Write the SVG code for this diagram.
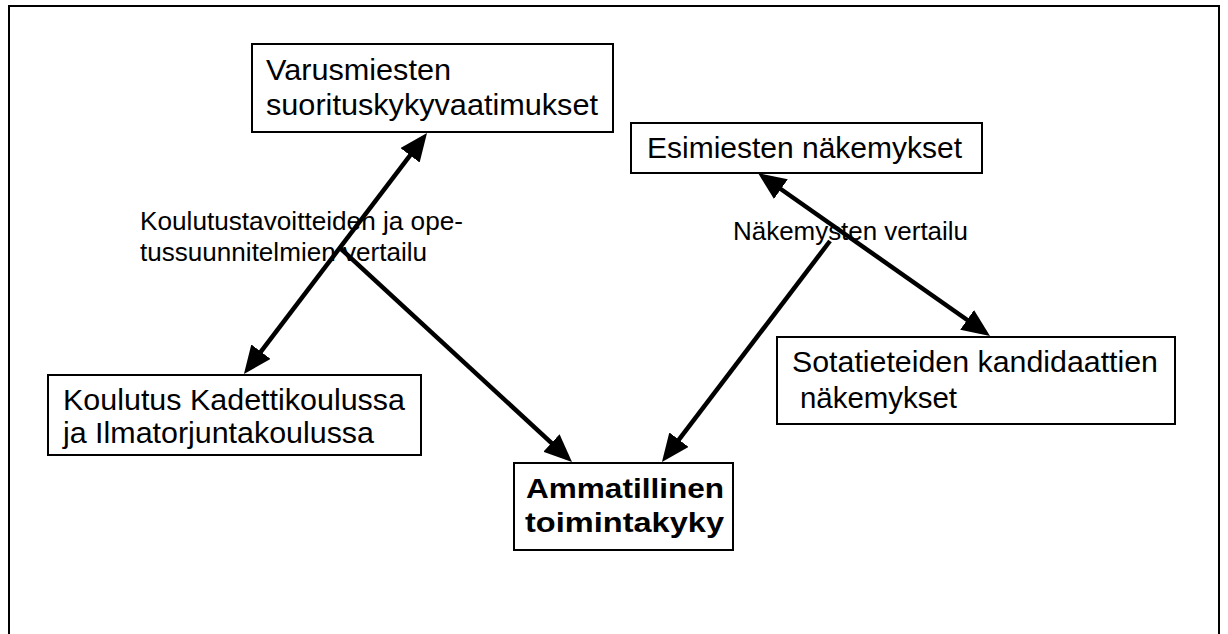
<svg xmlns="http://www.w3.org/2000/svg" width="1228" height="634" viewBox="0 0 1228 634">
<style>
.box{fill:#fff;stroke:#000;stroke-width:2}
.t{font-family:"Liberation Sans",Arial,sans-serif;font-size:29px;fill:#000}
.b{font-family:"Liberation Sans",Arial,sans-serif;font-size:28px;font-weight:bold;fill:#000}
.lbl{font-family:"Liberation Sans",Arial,sans-serif;font-size:25px;fill:#000}
.c{stroke:#000;stroke-width:4.5;fill:none}
</style>
<defs>
<marker id="ah" viewBox="0 0 28 24" refX="22" refY="12" markerWidth="28" markerHeight="24" markerUnits="userSpaceOnUse" orient="auto-start-reverse">
<path d="M0,0 L28,12 L0,24 z" fill="#000"/>
</marker>
</defs>
<rect x="9" y="6" width="1210" height="700" fill="#fff" stroke="#000" stroke-width="2"/>
<g id="connectors">
<line class="c" x1="247.6" y1="369.2" x2="423.4" y2="137.8" marker-start="url(#ah)" marker-end="url(#ah)"/>
<line class="c" x1="340" y1="248" x2="567.6" y2="457.9" marker-end="url(#ah)"/>
<line class="c" x1="762.9" y1="176.5" x2="985.1" y2="332.5" marker-start="url(#ah)" marker-end="url(#ah)"/>
<line class="c" x1="830" y1="241" x2="665.6" y2="457.2" marker-end="url(#ah)"/>
</g>
<g id="label-koulutus-vertailu">
<text class="lbl" x="140" y="230" textLength="323" lengthAdjust="spacingAndGlyphs">Koulutustavoitteiden ja ope-</text>
<text class="lbl" x="140" y="261" textLength="287" lengthAdjust="spacingAndGlyphs">tussuunnitelmien vertailu</text>
</g>
<g id="label-nakemysten-vertailu">
<text class="lbl" x="733" y="240" textLength="235" lengthAdjust="spacingAndGlyphs">Näkemysten vertailu</text>
</g>
<g id="node-varusmiesten">
<rect class="box" x="252" y="44" width="361" height="88"/>
<text class="t" x="266" y="80" textLength="185" lengthAdjust="spacingAndGlyphs">Varusmiesten</text>
<text class="t" x="266" y="115" textLength="332" lengthAdjust="spacingAndGlyphs">suorituskykyvaatimukset</text>
</g>
<g id="node-esimiesten">
<rect class="box" x="631" y="123" width="351" height="50"/>
<text class="t" x="647" y="158" textLength="315" lengthAdjust="spacingAndGlyphs">Esimiesten näkemykset</text>
</g>
<g id="node-koulutus">
<rect class="box" x="48" y="375" width="373" height="80"/>
<text class="t" x="63" y="410" textLength="342" lengthAdjust="spacingAndGlyphs">Koulutus Kadettikoulussa</text>
<text class="t" x="63" y="443" textLength="311" lengthAdjust="spacingAndGlyphs">ja Ilmatorjuntakoulussa</text>
</g>
<g id="node-sotatieteiden">
<rect class="box" x="777" y="337" width="398" height="87"/>
<text class="t" x="792" y="372" textLength="366" lengthAdjust="spacingAndGlyphs">Sotatieteiden kandidaattien</text>
<text class="t" x="800" y="408" textLength="157" lengthAdjust="spacingAndGlyphs">näkemykset</text>
</g>
<g id="node-ammatillinen">
<rect class="box" x="514" y="463" width="219" height="87"/>
<text class="b" x="526" y="498" textLength="198" lengthAdjust="spacingAndGlyphs">Ammatillinen</text>
<text class="b" x="525" y="532" textLength="199" lengthAdjust="spacingAndGlyphs">toimintakyky</text>
</g>
</svg>
